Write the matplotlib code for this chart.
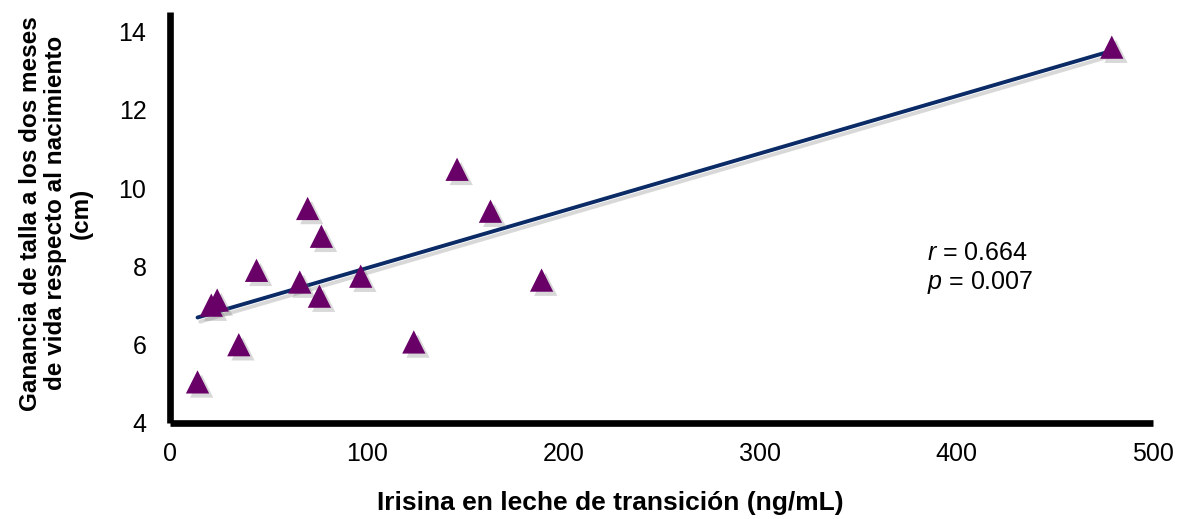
import numpy as np
import matplotlib
matplotlib.use("Agg")
import matplotlib.pyplot as plt
import matplotlib.patheffects as pe

plt.rcParams['font.family'] = ['Liberation Sans', 'DejaVu Sans']
plt.rcParams['mathtext.fontset'] = 'custom'
plt.rcParams['mathtext.rm'] = 'Liberation Sans'
plt.rcParams['mathtext.it'] = 'Liberation Sans:italic'

irisina = [14, 35, 21, 24, 44, 66, 70, 77, 76, 97, 124, 146, 163, 189, 479]
ganancia = [5.05, 6.0, 7.01, 7.14, 7.9, 7.6, 9.48, 8.77, 7.24, 7.75, 6.07, 10.48, 9.41, 7.65, 13.6]
r_text = "$r$ = 0.664"
p_text = "$p$ = 0.007"
xticks = [0, 100, 200, 300, 400, 500]
yticks = [4, 6, 8, 10, 12, 14]

x = np.array(irisina, dtype=float)
y = np.array(ganancia, dtype=float)
slope, intercept = np.polyfit(x, y, 1)
xl = np.array([x.min(), x.max()])
yl = slope * xl + intercept

fig = plt.figure(figsize=(11.83, 5.19), dpi=100)
ax = fig.add_axes([0.1437, 0.185, 0.831, 0.792])

ax.plot(xl, yl, color='#0A2B66', lw=2.8, zorder=3, solid_capstyle='round',
        path_effects=[pe.SimpleLineShadow(offset=(2, -3), shadow_color='gray', alpha=0.3), pe.Normal()])
ax.scatter(x, y, marker='^', s=280, color='#680068', zorder=4, linewidths=0,
           path_effects=[pe.SimplePatchShadow(offset=(3, -3), shadow_rgbFace='gray', alpha=0.3), pe.Normal()])

ax.set_xlim(0, 500)
ax.set_ylim(4, 14.5)
ax.set_xticks(xticks)
ax.set_yticks(yticks)
ax.tick_params(length=0, labelsize=18)
ax.tick_params(axis='y', pad=17)
ax.tick_params(axis='x', pad=14)
for s in ['top', 'right']:
    ax.spines[s].set_visible(False)
for s in ['left', 'bottom']:
    ax.spines[s].set_linewidth(4.8)
    ax.spines[s].set_color('black')
    ax.spines[s].set_capstyle('butt')

ax.set_xlabel("Irisina en leche de transición (ng/mL)", fontsize=19, fontweight='bold')
ax.xaxis.set_label_coords((610 - 170) / 983, (423 - 503) / 411, transform=ax.transAxes)
ax.xaxis.label.set_va('center')
ax.set_ylabel("Ganancia de talla a los dos meses\nde vida respecto al nacimiento\n(cm)",
              fontsize=17.5, fontweight='bold', linespacing=1.15)
ax.yaxis.set_label_coords((56 - 170) / 983, 0.51, transform=ax.transAxes)
ax.yaxis.label.set_va('center')

ax.text(385, 8.35, r_text, fontsize=18, ha='left', va='center')
ax.text(385, 7.6, p_text, fontsize=18, ha='left', va='center')

fig.savefig("out.png", dpi=100)
